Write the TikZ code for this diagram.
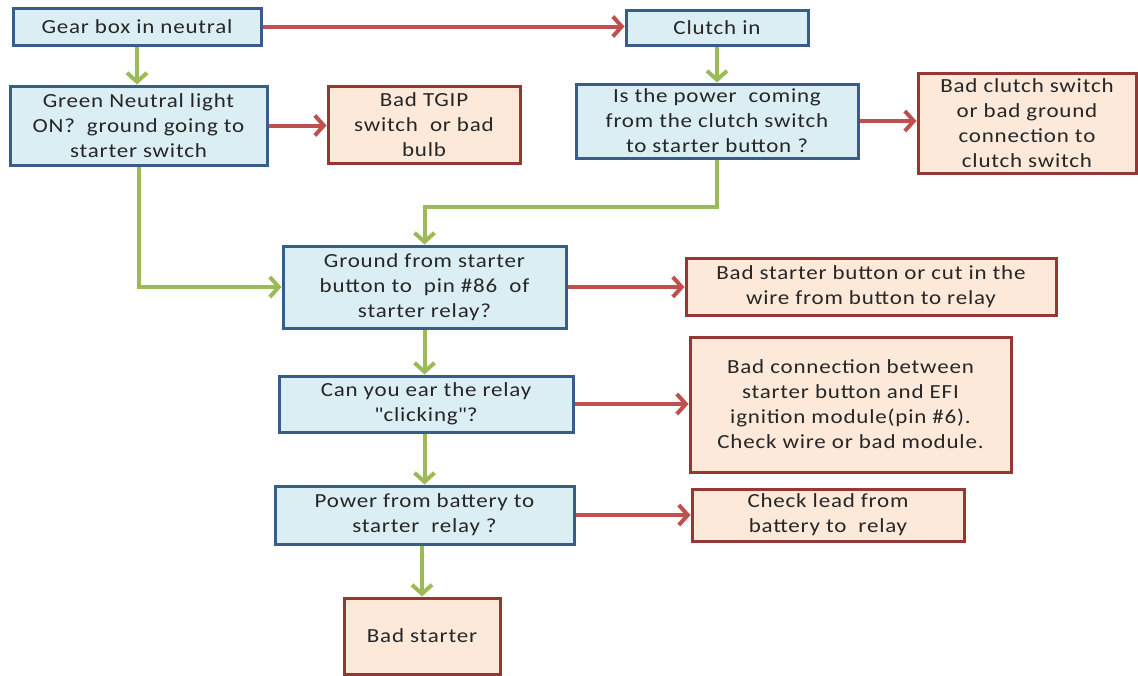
\documentclass[tikz,border=0pt]{standalone}
\usepackage{fontspec}
\setmainfont{Carlito}[LetterSpace=4,FakeStretch=1.15]
\newfontfamily\qf{Carlito}[LetterSpace=4,FakeStretch=1.15]
\usetikzlibrary{arrows.meta}
\definecolor{bfill}{RGB}{219,238,244}
\definecolor{bdraw}{RGB}{56,93,138}
\definecolor{rfill}{RGB}{253,233,217}
\definecolor{rdraw}{RGB}{149,55,53}
\definecolor{rarrow}{RGB}{192,80,77}
\definecolor{garrow}{RGB}{155,187,89}
\tikzset{
  box/.style={line width=3pt, inner sep=0pt, align=center,
    font=\fontsize{20}{25}\selectfont, text=black!85},
  bluebox/.style={box, draw=bdraw, fill=bfill},
  redbox/.style={box, draw=rdraw, fill=rfill},
  rarr/.style={draw=rarrow, line width=4pt, -{Straight Barb[length=9pt,width=20pt,line width=4pt]}},
  garr/.style={draw=garrow, line width=4pt, -{Straight Barb[length=9pt,width=20pt,line width=4pt]}},
}
\begin{document}
\begin{tikzpicture}[x=1pt,y=-1pt]
\useasboundingbox (0,0) rectangle (1138,675);
\node[bluebox, minimum width=248, minimum height=37] (gear) at (137,26.5) {Gear box in neutral};
\node[bluebox, minimum width=182, minimum height=35] (clutch) at (717,27.5) {Clutch in};
\node[bluebox, minimum width=257, minimum height=79] (green) at (138.5,125.5) {Green Neutral light\\ON?\ \ ground going to\\starter switch};
\node[redbox, minimum width=192, minimum height=77] (tgip) at (424,124.5) {Bad TGIP\\switch\ \ or bad\\bulb};
\node[bluebox, minimum width=282, minimum height=74] (power) at (717,121) {Is the power\ \ coming\\from the clutch switch\\to starter button ?};
\node[redbox, minimum width=218, minimum height=100] (badclutch) at (1027,123) {Bad clutch switch\\or bad ground\\connection to\\clutch switch};
\node[bluebox, minimum width=283, minimum height=82] (ground) at (424.5,287) {Ground from starter\\button to\ \ pin \#86\ \ of\\starter relay?};
\node[redbox, minimum width=370, minimum height=57] (badbutton) at (871,286.5) {Bad starter button or cut in the\\wire from button to relay};
\node[bluebox, minimum width=294, minimum height=56] (ear) at (426,404) {Can you ear the relay\\{\qf"}clicking{\qf"}?};
\node[redbox, minimum width=321, minimum height=135] (badconn) at (850.5,404.5) {Bad connection between\\starter button and EFI\\ignition module(pin \#6).\\Check wire or bad module.};
\node[bluebox, minimum width=299, minimum height=58] (battery) at (424.5,515) {Power from battery to\\starter\ \ relay ?};
\node[redbox, minimum width=272, minimum height=52] (lead) at (828,515) {Check lead from\\battery to\ \ relay};
\node[redbox, minimum width=156, minimum height=76] (badstarter) at (422,636) {Bad starter};

\draw[rarr] (gear.east) -- (clutch.west |- gear.east);
\draw[garr] (gear.south) -- (gear.south |- green.north);
\draw[garr] (clutch.south) -- (power.north);
\draw[rarr] (green.east) -- (tgip.west |- green.east);
\draw[rarr] (power.east) -- (badclutch.west |- power.east);
\draw[garr] (power.south) -- ++(0,47) -| (ground.north);
\draw[garr] (green.south) |- (ground.west);
\draw[rarr] (ground.east) -- (badbutton.west |- ground.east);
\draw[garr] (ground.south) -- (ground.south |- ear.north);
\draw[rarr] (ear.east) -- (badconn.west |- ear.east);
\draw[garr] (ground.south |- ear.south) -- (ground.south |- battery.north);
\draw[rarr] (battery.east) -- (lead.west |- battery.east);
\draw[garr] (badstarter.north |- battery.south) -- (badstarter.north);
\end{tikzpicture}
\end{document}
